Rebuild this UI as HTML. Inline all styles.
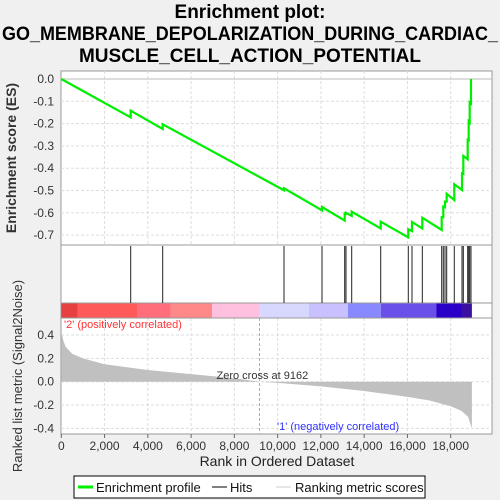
<!DOCTYPE html>
<html><head><meta charset="utf-8"><style>
body{margin:0;background:#f0f0f0;}
svg{display:block;font-family:"Liberation Sans",sans-serif;}
</style></head><body>
<svg id="chart" width="500" height="500" viewBox="0 0 500 500">
<rect x="0" y="0" width="500" height="500" fill="#f0f0f0"/>
<g font-weight="bold" font-size="19" text-anchor="middle" fill="#000">
<text x="250" y="18">Enrichment plot:</text>
<text x="250" y="40" textLength="496" lengthAdjust="spacingAndGlyphs">GO_MEMBRANE_DEPOLARIZATION_DURING_CARDIAC_</text>
<text x="250" y="62">MUSCLE_CELL_ACTION_POTENTIAL</text>
</g>
<rect x="61" y="71" width="431" height="363" fill="#fff" stroke="#999"/>
<g id="grid"></g>
<g id="marks"></g>
<g id="axes" font-size="12" fill="#333"></g>
<text x="16" y="158" font-size="14" font-weight="bold" fill="#333" text-anchor="middle" transform="rotate(-90 16 158)">Enrichment score (ES)</text>
<text x="22" y="376" font-size="13" fill="#333" text-anchor="middle" transform="rotate(-90 22 376)">Ranked list metric (Signal2Noise)</text>
<text x="277" y="466" font-size="14" fill="#222" text-anchor="middle">Rank in Ordered Dataset</text>
<text x="64" y="328" font-size="11" fill="#ff3333">'2' (positively correlated)</text>
<text x="277" y="430" font-size="11" fill="#3333ff">'1' (negatively correlated)</text>
<g>
<rect x="74" y="476" width="351" height="22" fill="#fff" stroke="#000"/>
<line x1="78" y1="487" x2="93" y2="487" stroke="#00ee00" stroke-width="3"/>
<text x="96" y="492" font-size="13" fill="#111">Enrichment profile</text>
<line x1="212" y1="487" x2="227" y2="487" stroke="#000"/>
<text x="230" y="492" font-size="13" fill="#111">Hits</text>
<line x1="276" y1="487" x2="291" y2="487" stroke="#ccc"/>
<text x="295" y="492" font-size="13" fill="#111">Ranking metric scores</text>
</g>
</svg>
<script>
const totalN = 18980;
const hitRanks = [3208,4687,10294,12051,13100,13160,13424,14765,16040,16211,16688,17584,17658,17737,17815,18166,18523,18583,18786,18832,18878,18938];
const esBefore = [-0.172,-0.224,-0.499,-0.589,-0.635,-0.61,-0.614,-0.67,-0.71,-0.682,-0.67,-0.677,-0.62,-0.575,-0.55,-0.543,-0.498,-0.425,-0.36,-0.275,-0.195,-0.11];
const esAfter = [-0.142,-0.203,-0.49,-0.574,-0.598,-0.6,-0.595,-0.64,-0.674,-0.641,-0.622,-0.62,-0.572,-0.55,-0.515,-0.472,-0.423,-0.345,-0.273,-0.19,-0.105,0.0];
const metricRanks = [0,100,200,500,1000,2000,4000,6000,8000,9162,10000,12000,14000,16000,17000,18000,18500,18800,18980];
const metricValues = [0.43,0.35,0.3,0.24,0.2,0.15,0.1,0.065,0.03,0,-0.01,-0.04,-0.08,-0.13,-0.16,-0.21,-0.25,-0.3,-0.4];
const esTicks = [0,-0.1,-0.2,-0.3,-0.4,-0.5,-0.6,-0.7];
const esTickLabels = ["0.0","-0.1","-0.2","-0.3","-0.4","-0.5","-0.6","-0.7"];
const metricTicks = [0.4,0.2,0,-0.2,-0.4];
const metricTickLabels = ["0.4","0.2","0.0","-0.2","-0.4"];
const xTicks = [0,2000,4000,6000,8000,10000,12000,14000,16000,18000];
const xTickLabels = ["0","2,000","4,000","6,000","8,000","10,000","12,000","14,000","16,000","18,000"];
const barEnds = [750,3500,5050,6970,9162,11450,13250,14770,17330,18500,18980];
const barColors = ["#e84040","#ff5a5a","#ff6e7a","#ff8888","#ffc0e0","#d8d8ff","#c8c0ff","#8888ff","#6a50e8","#2a00c8","#3a10a0"];
const zeroCross = 9162;

const NS="http://www.w3.org/2000/svg";
const X = r => 61.3 + r*0.021633;
const YES = v => 79 - v*223;
const YM = v => 381.7 - v*116.7;
function mk(tag, attrs, parent){const e=document.createElementNS(NS,tag);for(const k in attrs)e.setAttribute(k,attrs[k]);parent.appendChild(e);return e;}
const grid=document.getElementById('grid'), marks=document.getElementById('marks'), axes=document.getElementById('axes');
xTicks.forEach((t,i)=>{
  if(i>0){
    mk('line',{x1:X(t),x2:X(t),y1:71,y2:245,stroke:'#ddd','stroke-dasharray':'3,2'},grid);
    mk('line',{x1:X(t),x2:X(t),y1:318,y2:434,stroke:'#ddd','stroke-dasharray':'3,2'},grid);
  }
  mk('line',{x1:X(t),x2:X(t),y1:434,y2:438,stroke:'#666'},axes);
  const tx=mk('text',{x:X(t),y:450,'text-anchor':'middle'},axes);
  tx.textContent=xTickLabels[i];
  
  
});
esTicks.forEach((t,i)=>{
  mk('line',{x1:61,x2:492,y1:YES(t),y2:YES(t),stroke:t===0?'#bbb':'#ddd','stroke-dasharray':t===0?'':'3,2'},grid);
  const tx=mk('text',{x:54,y:YES(t)+4,'text-anchor':'end'},axes);
  tx.textContent=esTickLabels[i];
  
  
});
metricTicks.forEach((t,i)=>{
  mk('line',{x1:61,x2:492,y1:YM(t),y2:YM(t),stroke:'#ddd','stroke-dasharray':'3,2'},grid);
  const tx=mk('text',{x:54,y:YM(t)+4,'text-anchor':'end'},axes);
  tx.textContent=metricTickLabels[i];
  
  
});
// panel separators
mk('line',{x1:61,x2:492,y1:245,y2:245,stroke:'#999'},marks);
mk('line',{x1:61,x2:492,y1:303,y2:303,stroke:'#999'},marks);
mk('line',{x1:61,x2:492,y1:318,y2:318,stroke:'#999'},marks);
// color bar
let prev=0;
barEnds.forEach((e,i)=>{
  const r=mk('rect',{x:X(prev),y:303.5,width:X(e)-X(prev),height:14,fill:barColors[i]},marks);
  
  
  prev=e;
});
// hits
hitRanks.forEach(h=>{
  const l=mk('line',{x1:X(h),x2:X(h),y1:246,y2:303,stroke:'#222','stroke-width':1},marks);
  
  
});
// metric area
let d='M'+X(0)+','+YM(0);
metricRanks.forEach((r,i)=>{d+=' L'+X(r)+','+YM(metricValues[i]);});
d+=' L'+X(totalN)+','+YM(0)+' Z';
const area=mk('path',{d:d,fill:'#c0c0c0'},marks);


// zero cross
mk('line',{x1:X(zeroCross),x2:X(zeroCross),y1:318,y2:434,stroke:'#aaa','stroke-dasharray':'3,2'},marks);
const zt=mk('text',{x:X(zeroCross)-43,y:379,'font-size':11,fill:'#333'},marks);
zt.textContent='Zero cross at '+zeroCross;


// ES line
let p='M'+X(0)+','+YES(0);
hitRanks.forEach((h,i)=>{p+=' L'+X(h)+','+YES(esBefore[i])+' L'+X(h)+','+YES(esAfter[i]);});
const es=mk('path',{d:p,fill:'none',stroke:'#00ee00','stroke-width':2.2},marks);


</script>
</body></html>
